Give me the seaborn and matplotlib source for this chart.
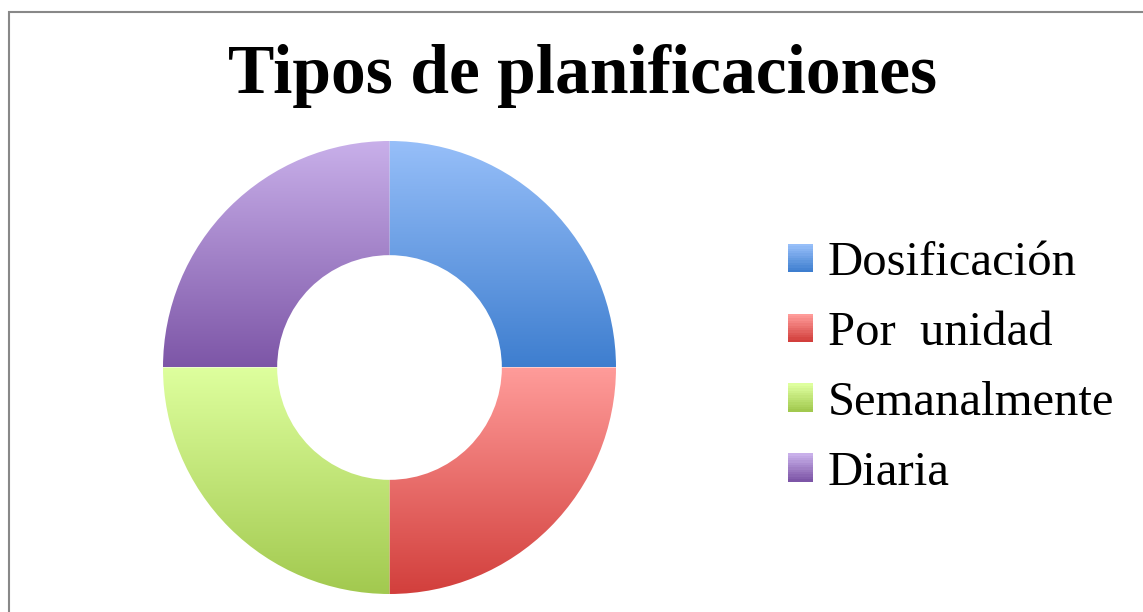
import numpy as np
import matplotlib
matplotlib.use("Agg")
import matplotlib.pyplot as plt
import seaborn as sns
from matplotlib.patches import Rectangle
from matplotlib.legend_handler import HandlerBase

# Data
categorias = ["Dosificación", "Por  unidad", "Semanalmente", "Diaria"]
valores = [25, 25, 25, 25]
# gradient colours per slice (top, bottom)
colores_top = ["#97BFF9", "#FF9C9A", "#DEFF9E", "#C9B0EA"]
colores_bottom = ["#3E7ECF", "#D23F3C", "#A2C94F", "#7D56A7"]

sns.set_theme(style="white")
plt.rcParams['font.family'] = ['Liberation Serif', 'DejaVu Serif']

W, H = 1143, 612
fig = plt.figure(figsize=(W / 100, H / 100), dpi=100)
fig.patch.set_facecolor("white")

# chart frame (only left/top visible in the crop)
fig.patches.append(Rectangle((9 / W, -0.1), 1.2, 1 - 12 / H + 0.1,
                             transform=fig.transFigure, fill=False,
                             edgecolor="#888888", linewidth=1.5))

ax = fig.add_axes([163 / W, 18 / H, 453 / W, 453 / H])
wedges, _ = ax.pie(valores, startangle=90, counterclock=False, radius=1,
                   colors=colores_bottom,
                   wedgeprops=dict(width=0.504, linewidth=0))
ax.set_aspect("equal")
ax.axis("off")

# vertical gradient inside each wedge
for w, c_top, c_bot in zip(wedges, colores_top, colores_bottom):
    verts = w.get_path().vertices
    x0, y0 = verts.min(axis=0)
    x1, y1 = verts.max(axis=0)
    cmap = sns.blend_palette([c_bot, c_top], n_colors=256, as_cmap=True)
    grad = np.linspace(0, 1, 256).reshape(-1, 1)
    im = ax.imshow(grad, cmap=cmap, origin="lower", aspect="auto",
                   extent=[x0, x1, y0, y1], interpolation="bicubic", zorder=2)
    im.set_clip_path(w)
    w.set_facecolor("none")

ax.set_xlim(-1, 1)
ax.set_ylim(-1, 1)

fig.text(583 / W, 1 - 76 / H, "Tipos de planificaciones", ha="center",
         va="center", fontsize=50, fontweight="bold", color="black")


class GradientHandler(HandlerBase):
    # legend square with the same top-to-bottom gradient
    def create_artists(self, legend, orig_handle, xdescent, ydescent,
                       width, height, fontsize, trans):
        c_top, c_bot = orig_handle
        n = 12
        cols = sns.blend_palette([c_bot, c_top], n_colors=n)
        arts = []
        for i, c in enumerate(cols):
            r = Rectangle((-xdescent, -ydescent + i * height / n), width,
                          height / n * 1.05, facecolor=c, edgecolor="none",
                          transform=trans)
            arts.append(r)
        return arts


handles = list(zip(colores_top, colores_bottom))
leg = fig.legend(handles, categorias, loc="center left",
                 bbox_to_anchor=(788 / W, 1 - 368 / H), frameon=False,
                 fontsize=35, handlelength=0.52, handleheight=0.52,
                 handletextpad=0.3, labelspacing=0.53, borderpad=0,
                 borderaxespad=0,
                 handler_map={tuple: GradientHandler()})
for t in leg.get_texts():
    t.set_color("black")

fig.savefig("out.png", dpi=100)
